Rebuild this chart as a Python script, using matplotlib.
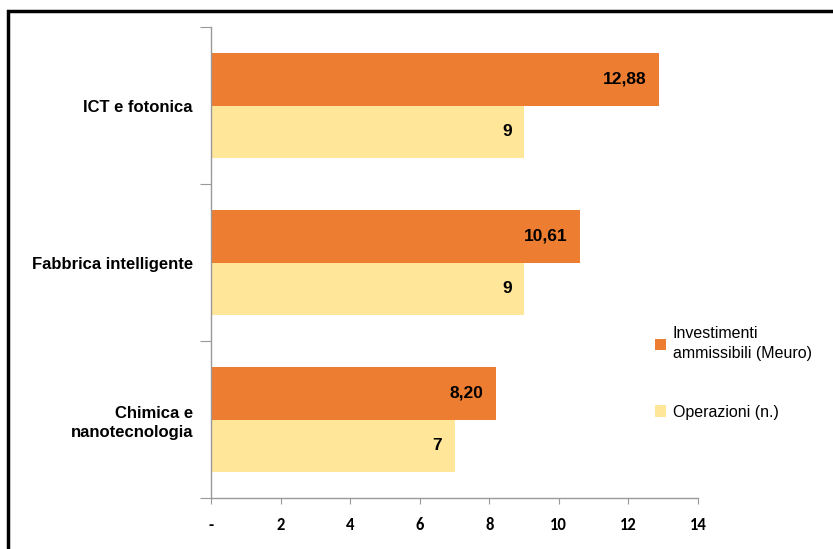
import matplotlib.pyplot as plt
import matplotlib.patches as patches
import numpy as np

categories = ['ICT e fotonica', 'Fabbrica intelligente', 'Chimica e\nnanotecnologia']
investimenti = [12.88, 10.61, 8.20]
operazioni = [9, 9, 7]
inv_labels = ['12,88', '10,61', '8,20']
op_labels = ['9', '9', '7']
xticks = [0, 2, 4, 6, 8, 10, 12, 14]
xtick_labels = ['-', '2', '4', '6', '8', '10', '12', '14']

orange = '#ED7D31'
yellow = '#FFE699'
narrow = ['Liberation Sans Narrow', 'Liberation Sans', 'DejaVu Sans']

fig = plt.figure(figsize=(8.33, 5.49), dpi=100)
ax = fig.add_axes([211 / 833, 1 - 498 / 549, 487 / 833, 471 / 549])

# outer frame of the original document
fig.patches.append(patches.Rectangle((8 / 833, -0.5), 1.5, 1.5 - 11 / 549,
                                     transform=fig.transFigure, fill=False,
                                     edgecolor='black', linewidth=2.5))

y = np.arange(len(categories))
h = 1 / 3
ax.barh(y - h / 2, investimenti, height=h, color=orange, label='Investimenti\nammissibili (Meuro)')
ax.barh(y + h / 2, operazioni, height=h, color=yellow, label='Operazioni (n.)')

for i in range(len(categories)):
    ax.annotate(inv_labels[i], (investimenti[i], y[i] - h / 2), xytext=(-9, 0),
                textcoords='offset points', ha='right', va='center',
                fontsize=12.5, fontweight='bold', family=narrow)
    ax.annotate(op_labels[i], (operazioni[i], y[i] + h / 2), xytext=(-9, 0),
                textcoords='offset points', ha='right', va='center',
                fontsize=12.5, fontweight='bold', family=narrow)

ax.set_xlim(0, 14)
ax.set_ylim(2.5, -0.5)
ax.set_xticks(xticks)
ax.set_xticklabels(xtick_labels, fontsize=12, fontweight='bold',
                   family=['Carlito', 'Liberation Sans', 'DejaVu Sans'])
ax.set_yticks([-0.5, 0.5, 1.5, 2.5])
ax.set_yticklabels([])
ax.set_yticks(y, minor=True)
ax.set_yticklabels(categories, minor=True, fontsize=12, fontweight='bold',
                   family=narrow, ha='right', linespacing=1.3)
ax.tick_params(axis='y', which='minor', length=0, pad=13)
ax.tick_params(axis='y', which='major', length=8, color='#999999')
ax.tick_params(axis='x', length=4, color='#999999', pad=10)

for s in ['top', 'right']:
    ax.spines[s].set_visible(False)
for s in ['left', 'bottom']:
    ax.spines[s].set_color('#999999')
    ax.spines[s].set_linewidth(1)

leg = fig.legend(loc='upper left', bbox_to_anchor=(655 / 833, 1 - 326 / 549), frameon=False,
                 prop={'family': narrow, 'size': 11.5}, handlelength=0.7, handleheight=0.7,
                 handletextpad=0.4, labelspacing=2.7, borderpad=0, borderaxespad=0)
for t in leg.get_texts():
    t.set_linespacing(1.45)

fig.savefig('out.png', dpi=100)
